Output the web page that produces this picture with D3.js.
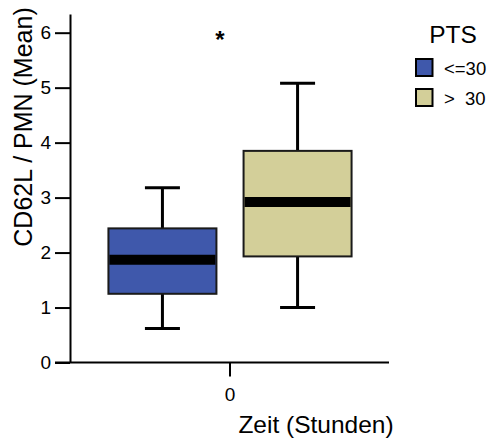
<!DOCTYPE html>
<html>
<head>
<meta charset="utf-8">
<script src="https://cdn.jsdelivr.net/npm/d3@7"></script>
<style>
  body { margin: 0; background: #fff; }
  svg { font-family: "Liberation Sans", Arial, sans-serif; }
</style>
</head>
<body>
<svg id="chart" width="491" height="438"></svg>
<script>
// Time points on the x axis
const categories = ["0"];
// PTS groups
const groups = ["<=30", "> 30"];
const groupLabels = ["<=30", ">  30"];
const groupColors = ["#3f58ab", "#d3cf99"];
// Box statistics per group (CD62L / PMN mean)
const whiskerLow = [0.62, 1.00];
const q1 = [1.25, 1.93];
const median = [1.87, 2.92];
const q3 = [2.44, 3.85];
const whiskerHigh = [3.18, 5.08];
const yTicks = [0, 1, 2, 3, 4, 5, 6];

const svg = d3.select("#chart");

const y = d3.scaleLinear().domain([0, 6.34]).range([362.5, 14]);
const x = d3.scaleBand().domain(categories).range([70, 390]);
// groups placed around the category centre
const xg = d3.scaleBand().domain(groups).range([-125, 125]).paddingInner(0.15);

// Y axis: line and ticks from the axis generator, labels as plain text
const yAxis = d3.axisLeft(y).tickValues(yTicks).tickSize(15).tickSizeOuter(0).tickFormat("");
const gy = svg.append("g").attr("transform", "translate(70,0)").call(yAxis);
gy.select(".domain").attr("stroke", "#000").attr("stroke-width", 2);
gy.selectAll(".tick line").attr("stroke", "#000").attr("stroke-width", 2);
svg.append("g").selectAll("text").data(yTicks).join("text")
  .attr("x", 51).attr("y", d => y(d)).attr("dy", "0.35em")
  .attr("text-anchor", "end").attr("font-size", 19).attr("fill", "#000")
  .text(d3.format("d"));

// X axis
const xAxis = d3.axisBottom(x).tickSize(14).tickSizeOuter(0).tickFormat("");
const gx = svg.append("g").attr("transform", `translate(0,${y(0)})`).call(xAxis);
gx.select(".domain").remove();
gx.selectAll(".tick line").attr("stroke", "#000").attr("stroke-width", 2);
svg.append("g").selectAll("text").data(categories).join("text")
  .attr("x", d => x(d) + x.bandwidth() / 2).attr("y", y(0) + 38)
  .attr("text-anchor", "middle").attr("font-size", 19).attr("fill", "#000")
  .text(d => d);
svg.append("line")
  .attr("x1", 55).attr("x2", 389)
  .attr("y1", y(0)).attr("y2", y(0))
  .attr("stroke", "#000").attr("stroke-width", 2);

// Boxes
const boxW = 108;
const capW = 35;
const boxes = svg.append("g");
groups.forEach((g, i) => {
  const cx = x(categories[0]) + x.bandwidth() / 2 + xg(g) + xg.bandwidth() / 2;
  const b = boxes.append("g");
  // whiskers
  b.append("line").attr("x1", cx).attr("x2", cx)
    .attr("y1", y(whiskerLow[i])).attr("y2", y(q1[i]))
    .attr("stroke", "#000").attr("stroke-width", 3);
  b.append("line").attr("x1", cx).attr("x2", cx)
    .attr("y1", y(q3[i])).attr("y2", y(whiskerHigh[i]))
    .attr("stroke", "#000").attr("stroke-width", 3);
  b.append("line").attr("x1", cx - capW / 2).attr("x2", cx + capW / 2)
    .attr("y1", y(whiskerLow[i])).attr("y2", y(whiskerLow[i]))
    .attr("stroke", "#000").attr("stroke-width", 3);
  b.append("line").attr("x1", cx - capW / 2).attr("x2", cx + capW / 2)
    .attr("y1", y(whiskerHigh[i])).attr("y2", y(whiskerHigh[i]))
    .attr("stroke", "#000").attr("stroke-width", 3);
  // box
  b.append("rect")
    .attr("x", cx - boxW / 2).attr("width", boxW)
    .attr("y", y(q3[i])).attr("height", y(q1[i]) - y(q3[i]))
    .attr("fill", groupColors[i]).attr("stroke", "#1a1a1a").attr("stroke-width", 2);
  // median
  b.append("line").attr("x1", cx - boxW / 2 + 1).attr("x2", cx + boxW / 2 - 1)
    .attr("y1", y(median[i])).attr("y2", y(median[i]))
    .attr("stroke", "#000").attr("stroke-width", 10);
});

// Significance marker
svg.append("text").attr("x", 220).attr("y", 48)
  .attr("text-anchor", "middle").attr("font-size", 24).attr("font-weight", "bold")
  .text("*");

// Axis titles
svg.append("text")
  .attr("transform", "translate(32,127) rotate(-90)")
  .attr("text-anchor", "middle").attr("font-size", 25).attr("fill", "#000")
  .text("CD62L / PMN (Mean)");
svg.append("text")
  .attr("x", 316).attr("y", 433)
  .attr("text-anchor", "middle").attr("font-size", 24.5).attr("fill", "#000")
  .text("Zeit (Stunden)");

// Legend
const legend = svg.append("g");
legend.append("text").attr("x", 453).attr("y", 43)
  .attr("text-anchor", "middle").attr("font-size", 24.5).text("PTS");
groups.forEach((g, i) => {
  const ly = 59 + i * 30;
  legend.append("rect").attr("x", 416).attr("y", ly).attr("width", 16.5).attr("height", 17)
    .attr("fill", groupColors[i]).attr("stroke", "#000").attr("stroke-width", 2);
  legend.append("text").attr("x", 444).attr("y", ly + 16)
    .attr("font-size", 18.5).style("white-space", "pre")
    .text(groupLabels[i]);
});
</script>
</body>
</html>
